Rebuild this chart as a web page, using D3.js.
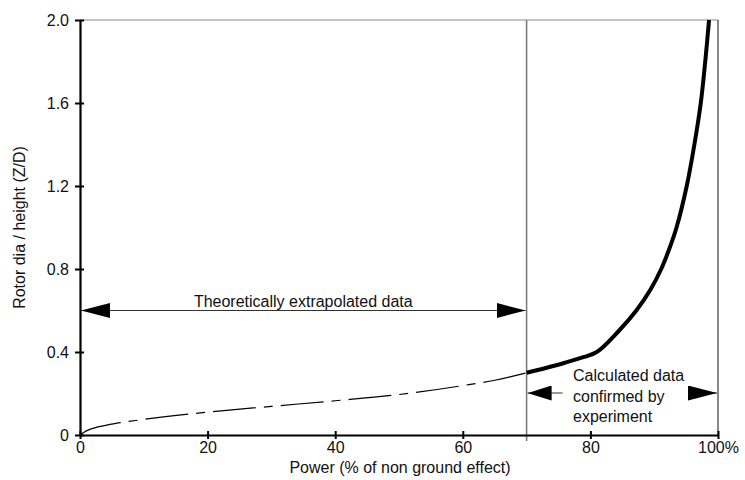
<!DOCTYPE html>
<html>
<head>
<script src="https://d3js.org/d3.v7.min.js"></script>
<style>
  body { margin: 0; background: #fff; }
  svg { font-family: "Liberation Sans", Arial, sans-serif; }
  text { fill: #111; }
</style>
</head>
<body>
<script>
  // values
  var extrapX = [0, 1, 3, 6, 10, 20, 30, 40, 50, 60, 65, 70];
  var extrapY = [0, 0.02, 0.04, 0.058, 0.075, 0.11, 0.138, 0.165, 0.195, 0.238, 0.264, 0.3];
  var calcX = [70, 73, 76, 79, 81, 84.4, 87.2, 89.4, 91.1, 92.4, 93.5, 95.1, 96.3, 97.3, 98.0, 98.6];
  var calcY = [0.3, 0.323, 0.348, 0.376, 0.4, 0.5, 0.6, 0.7, 0.8, 0.9, 1.0, 1.2, 1.4, 1.6, 1.8, 2.0];
  var xTicks = [0, 20, 40, 60, 80, 100];
  var yTicks = [0, 0.4, 0.8, 1.2, 1.6, 2.0];
  var splitX = 70;
  var fs = 16;

  var width = 745, height = 480;
  var margin = {top: 20, right: 27, bottom: 45, left: 80};

  var svg = d3.select('body').append('svg')
    .attr('width', width)
    .attr('height', height);

  var x = d3.scaleLinear().domain([0, 100]).range([margin.left, width - margin.right]);
  var y = d3.scaleLinear().domain([0, 2]).range([height - margin.bottom, margin.top]);

  // arrow heads
  var defs = svg.append('defs');
  function head(id, len) {
    defs.append('marker')
      .attr('id', id)
      .attr('viewBox', '0 0 ' + len + ' 15')
      .attr('refX', len).attr('refY', 7.5)
      .attr('markerWidth', len).attr('markerHeight', 15)
      .attr('markerUnits', 'userSpaceOnUse')
      .attr('orient', 'auto-start-reverse')
      .append('path').attr('d', 'M0,0L' + len + ',7.5L0,15Z').attr('fill', '#000');
  }
  head('headA', 29);
  head('headB', 24);

  // frame: top and right thin
  svg.append('line')
    .attr('x1', x(0)).attr('x2', x(100)).attr('y1', y(2)).attr('y2', y(2))
    .attr('stroke', '#888').attr('stroke-width', 1);
  svg.append('line')
    .attr('x1', x(100)).attr('x2', x(100)).attr('y1', y(2)).attr('y2', y(0))
    .attr('stroke', '#111').attr('stroke-width', 1);

  // divider at 70%
  svg.append('line')
    .attr('x1', x(splitX)).attr('x2', x(splitX)).attr('y1', y(2)).attr('y2', y(0) + 6)
    .attr('stroke', '#777').attr('stroke-width', 1.5);

  // lines
  var line = d3.line()
    .x(function(d) { return x(d[0]); })
    .y(function(d) { return y(d[1]); })
    .curve(d3.curveMonotoneX);

  svg.append('path')
    .datum(d3.zip(extrapX, extrapY))
    .attr('d', line)
    .attr('fill', 'none')
    .attr('stroke', '#000')
    .attr('stroke-width', 1.2)
    .attr('stroke-dasharray', '43,8,9,8');

  svg.append('path')
    .datum(d3.zip(calcX, calcY))
    .attr('d', line.curve(d3.curveCatmullRom.alpha(0.5)))
    .attr('fill', 'none')
    .attr('stroke', '#000')
    .attr('stroke-width', 4);

  // axes
  var xAxis = d3.axisBottom(x)
    .tickValues(xTicks)
    .tickSizeInner(4).tickSizeOuter(0)
    .tickPadding(3)
    .tickFormat(function(d) { return d === 100 ? '100%' : d; });
  var gx = svg.append('g')
    .attr('transform', 'translate(0,' + y(0) + ')')
    .call(xAxis);
  gx.selectAll('.tick line').attr('y1', -4).attr('stroke-width', 2);

  var yAxis = d3.axisLeft(y)
    .tickValues(yTicks)
    .tickSizeInner(5).tickSizeOuter(0)
    .tickPadding(6)
    .tickFormat(function(d) { return d === 0 ? '0' : d3.format('.1f')(d); });
  var gy = svg.append('g')
    .attr('transform', 'translate(' + x(0) + ',0)')
    .call(yAxis);
  gy.selectAll('.tick line').attr('x1', -5).attr('x2', 4).attr('stroke-width', 2);

  svg.selectAll('.domain').attr('stroke', '#000').attr('stroke-width', 2.2);
  svg.selectAll('.tick text').attr('font-size', fs).attr('font-family', '"Liberation Sans", Arial, sans-serif').attr('fill', '#111');

  // axis titles
  svg.append('text')
    .attr('x', 400)
    .attr('y', 473)
    .attr('text-anchor', 'middle')
    .attr('font-size', fs)
    .text('Power (% of non ground effect)');

  svg.append('text')
    .attr('transform', 'translate(25,' + ((y(0) + y(2)) / 2) + ') rotate(-90)')
    .attr('text-anchor', 'middle')
    .attr('font-size', fs)
    .text('Rotor dia / height (Z/D)');

  // extrapolated span arrow
  var ay = y(0.6);
  svg.append('line')
    .attr('x1', x(0) + 1).attr('x2', x(splitX) - 1).attr('y1', ay).attr('y2', ay)
    .attr('stroke', '#333').attr('stroke-width', 1)
    .attr('marker-start', 'url(#headA)').attr('marker-end', 'url(#headA)');
  svg.append('text')
    .attr('x', (x(0) + x(splitX)) / 2)
    .attr('y', ay - 4)
    .attr('text-anchor', 'middle')
    .attr('font-size', fs)
    .text('Theoretically extrapolated data');

  // calculated span arrow, broken by the label
  var by = 393;
  svg.append('line')
    .attr('x1', x(splitX) + 36).attr('x2', x(splitX) + 1).attr('y1', by).attr('y2', by)
    .attr('stroke', '#333').attr('stroke-width', 1)
    .attr('marker-end', 'url(#headB)');
  svg.append('line')
    .attr('x1', x(100) - 30).attr('x2', x(100) - 1).attr('y1', by).attr('y2', by)
    .attr('stroke', '#333').attr('stroke-width', 1)
    .attr('marker-end', 'url(#headA)');

  var calcLabel = ['Calculated data', 'confirmed by', 'experiment'];
  svg.append('text')
    .attr('x', 573)
    .attr('y', 381)
    .attr('font-size', fs)
    .selectAll('tspan')
    .data(calcLabel)
    .enter().append('tspan')
    .attr('x', 573)
    .attr('dy', function(d, i) { return i === 0 ? 0 : 20.5; })
    .text(function(d) { return d; });
</script>
</body>
</html>
